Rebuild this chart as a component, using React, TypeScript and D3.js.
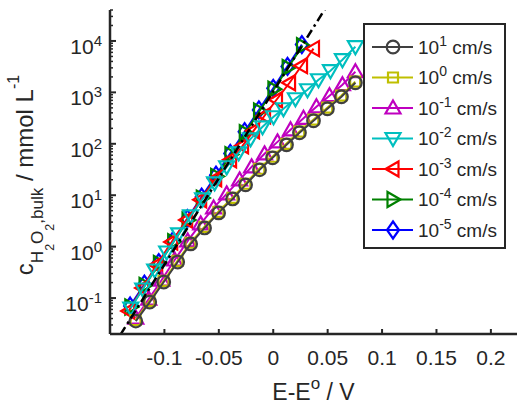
import React from 'react';
import * as d3 from 'd3';

const W = 517;
const H = 410;
const FONT = 'Liberation Sans, Arial, Helvetica, sans-serif';
const INK = '#262626';

// x ticks and y decades
const xTicks = [-0.1, -0.05, 0, 0.05, 0.1, 0.15, 0.2];
const xTickLabels = ['-0.1', '-0.05', '0', '0.05', '0.1', '0.15', '0.2'];
const yTicks = [0.1, 1, 10, 100, 1000, 10000];
const yTickExps = ['-1', '0', '1', '2', '3', '4'];

// k0 = 10^1 cm/s
const E_k1 = [-0.1263, -0.1135, -0.1006, -0.0878, -0.0759, -0.0631, -0.0502, -0.0373, -0.0254, -0.0126, -0.0006, 0.0122, 0.0241, 0.037, 0.0498, 0.0627, 0.0755];
const C_k1 = [0.0356, 0.0836, 0.205, 0.502, 1.13, 2.31, 4.53, 8.47, 15.9, 31.1, 53.3, 95.5, 164, 281, 480, 822, 1540];
// k0 = 10^0 cm/s
const E_k0 = [-0.1265, -0.1137, -0.1008, -0.088, -0.0761, -0.0633, -0.0504, -0.0375, -0.0256, -0.0128, -0.0008, 0.012, 0.0239, 0.0368, 0.0496, 0.0625, 0.0753];
const C_k0 = [0.0374, 0.0878, 0.215, 0.527, 1.19, 2.43, 4.76, 8.9, 16.7, 32.7, 56, 100, 172, 295, 504, 863, 1620];
// k0 = 10^-1 cm/s
const E_km1 = [-0.1263, -0.1144, -0.1025, -0.0906, -0.0786, -0.0667, -0.0548, -0.0428, -0.0309, -0.0199, -0.008, 0.0039, 0.0159, 0.0278, 0.0397, 0.0517, 0.0636, 0.0755];
const C_km1 = [0.0407, 0.0955, 0.224, 0.55, 1.29, 2.77, 5.66, 10.6, 19.9, 35.6, 63.8, 109, 187, 313, 525, 861, 1410, 2520];
// k0 = 10^-2 cm/s
const E_km2 = [-0.1309, -0.1199, -0.1089, -0.0979, -0.0869, -0.0759, -0.0649, -0.0539, -0.0428, -0.0318, -0.0208, -0.0098, 0.0003, 0.0094, 0.0204, 0.0315, 0.0416, 0.0526, 0.0636, 0.0755];
const C_km2 = [0.064, 0.15, 0.351, 0.787, 1.77, 3.95, 8.47, 17.4, 35.6, 66.7, 125, 214, 336, 480, 752, 1125, 1760, 2640, 4320, 7740];
// k0 = 10^-3 cm/s
const E_km3 = [-0.1328, -0.12, -0.1071, -0.0933, -0.0796, -0.0667, -0.0529, -0.0392, -0.0282, -0.0181, -0.008, 0.003, 0.015, 0.026, 0.037];
const C_km3 = [0.056, 0.157, 0.44, 1.23, 3.3, 8.15, 20.9, 48.8, 91.4, 179, 351, 719, 1540, 3300, 7080];
// k0 = 10^-4 cm/s
const E_km4 = [-0.1309, -0.1178, -0.1046, -0.0915, -0.0783, -0.0652, -0.052, -0.0389, -0.0257, -0.0126, 0.0006, 0.0137, 0.0269];
const C_km4 = [0.067, 0.177, 0.47, 1.25, 3.3, 8.8, 23.3, 61.7, 164, 434, 1150, 3050, 8090];
// k0 = 10^-5 cm/s
const E_km5 = [-0.1315, -0.1184, -0.1052, -0.0921, -0.0789, -0.0658, -0.0526, -0.0395, -0.0263, -0.0132, 0.0, 0.0131, 0.0263];
const C_km5 = [0.07, 0.186, 0.49, 1.31, 3.5, 9.2, 24.5, 65, 172, 455, 1200, 3200, 8500];

// Nernst reference line
const E_nernst = [-0.15, 0.05];
const C_nernst = [0.0092, 50500];

const legendExps = ['1', '0', '-1', '-2', '-3', '-4', '-5'];
const colors = ['#404040', '#bfbf00', '#bf00bf', '#00bfbf', '#ff0000', '#008000', '#0000ff'];
const symbols = ['circle', 'square', 'up', 'down', 'left', 'right', 'diamond'];
const Es = [E_k1, E_k0, E_km1, E_km2, E_km3, E_km4, E_km5];
const Cs = [C_k1, C_k0, C_km1, C_km2, C_km3, C_km4, C_km5];

function markerPath(sym: string): string {
  switch (sym) {
    case 'circle': {
      const r = 6.3;
      return `M${-r},0A${r},${r} 0 1,0 ${r},0A${r},${r} 0 1,0 ${-r},0Z`;
    }
    case 'square':
      return 'M-5,-5H5V5H-5Z';
    case 'up':
      return 'M0,-7.5L7.5,5.5L-7.5,5.5Z';
    case 'down':
      return 'M0,7.5L7.5,-5.5L-7.5,-5.5Z';
    case 'left':
      return 'M-7.5,0L5.5,-7.5L5.5,7.5Z';
    case 'right':
      return 'M7.5,0L-5.5,-7.5L-5.5,7.5Z';
    default:
      return 'M0,-8.5L6,0L0,8.5L-6,0Z';
  }
}

export default function App() {
  const left = 110, right = 517, top = 10, bottom = 334;
  const x = d3.scaleLinear().domain([-0.15, 0.224]).range([left, right]);
  const y = d3.scaleLog().domain([0.02, 40000]).range([bottom, top]);
  const line = d3.line<[number, number]>().x(d => x(d[0])).y(d => y(d[1]));

  const minor: number[] = [];
  for (let e = -2; e <= 4; e++) {
    for (let m = 2; m <= 9; m++) {
      const v = m * Math.pow(10, e);
      if (v >= 0.02 && v <= 40000) minor.push(v);
    }
  }

  // drawing order: last legend entry first, so 10^1 ends on top
  const order = [6, 5, 4, 3, 2, 1, 0];

  return (
    <svg width={W} height={H} style={{ position: 'absolute', left: 0, top: 0, background: '#fff' }} fontFamily={FONT}>
      <defs>
        <clipPath id="plotArea">
          <rect x={left} y={top} width={right - left} height={bottom - top} />
        </clipPath>
      </defs>

      {order.map(i => {
        const pts = Es[i].map((e, j) => [e, Cs[i][j]] as [number, number]);
        return (
          <g key={i}>
            <path d={line(pts) || ''} fill="none" stroke={colors[i]} strokeWidth={2} />
            {pts.map((p, j) => (
              <path key={j} d={markerPath(symbols[i])} transform={`translate(${x(p[0])},${y(p[1])})`}
                fill="none" stroke={colors[i]} strokeWidth={2.2} />
            ))}
          </g>
        );
      })}

      <path clipPath="url(#plotArea)"
        d={line(E_nernst.map((e, j) => [e, C_nernst[j]] as [number, number])) || ''}
        fill="none" stroke="#000" strokeWidth={2.5} strokeDasharray="9,4,2.5,4" />

      {/* axes */}
      <line x1={left} x2={right} y1={bottom} y2={bottom} stroke={INK} strokeWidth={2.5} />
      <line x1={left} x2={left} y1={top} y2={bottom} stroke={INK} strokeWidth={2.5} />
      {xTicks.map((t, i) => (
        <g key={i}>
          <line x1={x(t)} x2={x(t)} y1={bottom} y2={bottom - 5} stroke={INK} strokeWidth={2} />
          <text x={x(t)} y={365} textAnchor="middle" fontSize={21} fill={INK}>{xTickLabels[i]}</text>
        </g>
      ))}
      {minor.map((v, i) => (
        <line key={i} x1={left} x2={left + 3} y1={y(v)} y2={y(v)} stroke={INK} strokeWidth={1.5} />
      ))}
      {yTicks.map((t, i) => (
        <g key={i}>
          <line x1={left} x2={left + 6} y1={y(t)} y2={y(t)} stroke={INK} strokeWidth={2} />
          <text x={102} y={y(t) + 13} textAnchor="end" fontSize={21} fill={INK}>
            10<tspan fontSize={15} dy={-8}>{yTickExps[i]}</tspan>
          </text>
        </g>
      ))}

      {/* axis labels */}
      <text x={(left + right) / 2} y={400} textAnchor="middle" fontSize={23} fill={INK}>
        E-E<tspan fontSize={17} dy={-11}>o</tspan><tspan dy={11}> / V</tspan>
      </text>
      <text transform={`translate(33,${(top + bottom) / 2 + 3}) rotate(-90)`} textAnchor="middle" fontSize={24} fill={INK}>
        c<tspan fontSize={17} dy={10}>H</tspan><tspan fontSize={12.5} dy={11}>2</tspan>
        <tspan fontSize={17} dy={-11}>O</tspan><tspan fontSize={12.5} dy={11}>2</tspan>
        <tspan fontSize={17} dy={-11}>,bulk</tspan><tspan dy={-10}> / mmol L</tspan>
        <tspan fontSize={16} dy={-14}>-1</tspan>
      </text>

      {/* legend */}
      <rect x={364} y={24} width={141} height={224} fill="#fff" stroke={INK} strokeWidth={2} />
      {legendExps.map((ex, i) => {
        const cy = 47 + i * 30.5;
        return (
          <g key={i}>
            <line x1={372} x2={413} y1={cy} y2={cy} stroke={colors[i]} strokeWidth={2} />
            <path d={markerPath(symbols[i])} transform={`translate(393,${cy})`} fill="none" stroke={colors[i]} strokeWidth={2.2} />
            <text x={418} y={cy + 6.5} fontSize={19} fill={INK}>
              10<tspan fontSize={14} dy={-8}>{ex}</tspan><tspan dy={8}> cm/s</tspan>
            </text>
          </g>
        );
      })}
    </svg>
  );
}
